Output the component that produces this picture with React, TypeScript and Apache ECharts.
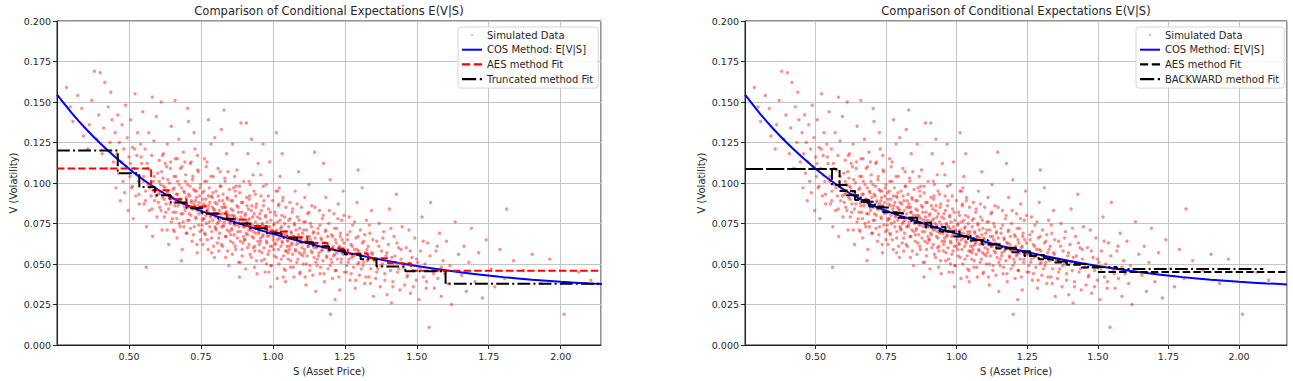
import React, { useEffect, useRef } from "react";
import * as echarts from "echarts";

// ---------- data ----------
const chartTitle = "Comparison of Conditional Expectations E(V|S)";
const xName = "S (Asset Price)";
const yName = "V (Volatility)";

// Simulated (S, V) samples: outer cloud
const cloudPoints: number[][] = [
  [0.283,0.159],[0.322,0.154],[0.305,0.138],[0.336,0.146],[0.342,0.129],[0.296,0.147],
  [0.380,0.169],[0.400,0.168],[0.416,0.162],[0.362,0.136],[0.371,0.151],[0.388,0.127],[0.395,0.142],[0.407,0.118],[0.412,0.134],[0.423,0.109],[0.428,0.147],[0.434,0.125],[0.441,0.139],[0.446,0.113],[0.357,0.121],[0.437,0.156],
  [0.452,0.131],[0.455,0.097],[0.458,0.118],[0.461,0.142],[0.464,0.106],[0.467,0.125],[0.470,0.089],[0.473,0.113],[0.476,0.136],[0.479,0.101],[0.482,0.121],[0.485,0.094],[0.488,0.148],[0.491,0.110],[0.494,0.128],[0.497,0.083],[0.500,0.116],[0.503,0.104],[0.506,0.139],[0.509,0.097],[0.512,0.122],[0.515,0.078],[0.518,0.109],[0.521,0.155],[0.524,0.092],[0.527,0.117],[0.530,0.131],[0.533,0.101],[0.536,0.087],[0.540,0.124],[0.544,0.112],[0.548,0.144],
  [0.551,0.104],[0.553,0.087],[0.556,0.121],[0.558,0.095],[0.561,0.073],[0.563,0.112],[0.566,0.099],[0.569,0.131],[0.571,0.083],[0.574,0.108],[0.577,0.092],[0.579,0.117],[0.582,0.067],[0.584,0.101],[0.587,0.126],[0.589,0.089],[0.592,0.096],[0.595,0.141],[0.597,0.079],[0.600,0.106],[0.602,0.093],[0.605,0.114],[0.607,0.085],[0.610,0.099],[0.612,0.150],[0.615,0.071],[0.618,0.103],[0.620,0.118],[0.623,0.090],[0.625,0.097],[0.628,0.082],[0.631,0.110],[0.633,0.124],[0.636,0.094],[0.638,0.062],[0.641,0.100],[0.643,0.087],[0.645,0.113],[0.647,0.135],[0.649,0.091],[0.560,0.048],[0.581,0.153],
  [0.651,0.078],[0.653,0.096],[0.655,0.071],[0.657,0.104],[0.659,0.088],[0.661,0.115],[0.663,0.082],[0.665,0.093],[0.667,0.066],[0.669,0.101],[0.671,0.086],[0.673,0.127],[0.675,0.075],[0.677,0.090],[0.679,0.109],[0.681,0.081],[0.683,0.097],[0.685,0.059],[0.687,0.087],[0.689,0.119],[0.691,0.073],[0.693,0.094],[0.695,0.083],[0.697,0.105],[0.699,0.091],[0.701,0.069],[0.703,0.099],[0.705,0.085],[0.707,0.138],[0.709,0.077],[0.711,0.092],[0.713,0.112],[0.715,0.080],[0.717,0.088],[0.719,0.064],[0.721,0.102],[0.723,0.084],[0.725,0.096],[0.727,0.073],[0.729,0.121],[0.731,0.089],[0.733,0.078],[0.735,0.095],[0.737,0.057],[0.739,0.086],[0.741,0.107],[0.743,0.081],[0.745,0.092],[0.747,0.070],[0.749,0.099],[0.704,0.146],[0.682,0.052],[0.726,0.131],[0.694,0.113],[0.738,0.117],[0.660,0.151],
  [0.751,0.083],[0.753,0.071],[0.755,0.094],[0.757,0.062],[0.759,0.087],[0.761,0.078],[0.763,0.101],[0.765,0.068],[0.767,0.090],[0.769,0.075],[0.771,0.113],[0.773,0.082],[0.775,0.059],[0.777,0.086],[0.779,0.097],[0.781,0.073],[0.783,0.080],[0.785,0.124],[0.787,0.066],[0.789,0.091],[0.791,0.077],[0.793,0.104],[0.795,0.084],[0.797,0.054],[0.799,0.088],[0.801,0.072],[0.803,0.095],[0.805,0.081],[0.807,0.063],[0.809,0.109],[0.811,0.076],[0.813,0.089],[0.815,0.069],[0.817,0.098],[0.819,0.079],[0.821,0.133],[0.823,0.085],[0.825,0.061],[0.827,0.093],[0.829,0.074],[0.831,0.087],[0.833,0.103],[0.835,0.067],[0.837,0.082],[0.839,0.118],[0.841,0.071],[0.843,0.090],[0.845,0.078],[0.847,0.049],[0.849,0.096],[0.830,0.145],[0.776,0.139],[0.812,0.058],[0.762,0.115],[0.798,0.128],[0.844,0.107],[0.786,0.092],[0.822,0.073],[0.756,0.077],[0.836,0.085],
  [0.851,0.075],[0.853,0.064],[0.855,0.089],[0.857,0.071],[0.859,0.056],[0.861,0.083],[0.863,0.097],[0.865,0.068],[0.867,0.079],[0.869,0.061],[0.871,0.092],[0.873,0.074],[0.875,0.108],[0.877,0.066],[0.879,0.085],[0.881,0.051],[0.883,0.077],[0.885,0.094],[0.887,0.070],[0.889,0.137],[0.891,0.082],[0.893,0.059],[0.895,0.088],[0.897,0.073],[0.899,0.101],[0.901,0.065],[0.903,0.080],[0.905,0.047],[0.907,0.076],[0.909,0.091],[0.911,0.068],[0.913,0.118],[0.915,0.084],[0.917,0.062],[0.919,0.078],[0.921,0.099],[0.923,0.071],[0.925,0.054],[0.927,0.086],[0.929,0.074],[0.931,0.105],[0.933,0.066],[0.935,0.081],[0.937,0.058],[0.939,0.093],[0.941,0.072],[0.943,0.087],[0.945,0.044],[0.947,0.079],[0.949,0.112],[0.860,0.124],[0.884,0.042],[0.908,0.137],[0.926,0.127],[0.872,0.098],[0.896,0.063],[0.918,0.090],[0.940,0.069],[0.856,0.080],[0.932,0.060],
  [0.951,0.069],[0.953,0.058],[0.955,0.081],[0.957,0.064],[0.959,0.092],[0.961,0.052],[0.963,0.075],[0.965,0.067],[0.967,0.086],[0.969,0.060],[0.971,0.073],[0.973,0.045],[0.975,0.079],[0.977,0.099],[0.979,0.063],[0.981,0.071],[0.983,0.056],[0.985,0.084],[0.987,0.068],[0.989,0.113],[0.991,0.061],[0.993,0.077],[0.995,0.049],[0.997,0.070],[0.999,0.089],[1.001,0.065],[1.003,0.074],[1.005,0.055],[1.007,0.082],[1.009,0.062],[1.011,0.095],[1.013,0.069],[1.015,0.041],[1.017,0.076],[1.019,0.059],[1.021,0.087],[1.023,0.066],[1.025,0.104],[1.027,0.072],[1.029,0.053],[1.031,0.080],[1.033,0.063],[1.035,0.091],[1.037,0.068],[1.039,0.047],[1.041,0.075],[1.043,0.058],[1.045,0.085],[1.047,0.070],[1.049,0.061],[0.966,0.124],[1.012,0.131],[0.992,0.036],[1.032,0.118],[0.958,0.105],[1.044,0.039],[0.978,0.050],[1.022,0.097],
  [1.051,0.064],[1.053,0.053],[1.055,0.077],[1.057,0.059],[1.059,0.088],[1.061,0.048],[1.063,0.070],[1.065,0.062],[1.067,0.082],[1.069,0.056],[1.071,0.067],[1.073,0.042],[1.075,0.074],[1.077,0.095],[1.079,0.058],[1.081,0.066],[1.083,0.051],[1.085,0.079],[1.087,0.063],[1.089,0.107],[1.091,0.057],[1.093,0.072],[1.095,0.045],[1.097,0.065],[1.099,0.085],[1.101,0.060],[1.103,0.069],[1.105,0.050],[1.107,0.076],[1.109,0.057],[1.111,0.091],[1.113,0.064],[1.115,0.037],[1.117,0.071],[1.119,0.055],[1.121,0.081],[1.123,0.061],[1.125,0.099],[1.127,0.067],[1.129,0.049],[1.131,0.075],[1.133,0.058],[1.135,0.086],[1.137,0.063],[1.139,0.043],[1.141,0.070],[1.143,0.054],[1.145,0.119],[1.147,0.066],[1.149,0.033],
  [1.152,0.060],[1.154,0.049],[1.157,0.072],[1.159,0.055],[1.162,0.083],[1.164,0.044],[1.167,0.066],[1.169,0.058],[1.172,0.078],[1.174,0.052],[1.177,0.063],[1.179,0.039],[1.182,0.070],[1.184,0.091],[1.187,0.054],[1.189,0.062],[1.192,0.047],[1.194,0.075],[1.197,0.059],[1.199,0.102],[1.202,0.053],[1.204,0.068],[1.207,0.041],[1.209,0.061],[1.212,0.081],[1.214,0.056],[1.217,0.065],[1.219,0.046],[1.222,0.072],[1.224,0.053],[1.227,0.087],[1.229,0.060],[1.232,0.034],[1.234,0.067],[1.237,0.051],[1.239,0.077],[1.242,0.057],[1.244,0.095],[1.247,0.063],[1.249,0.045],[1.176,0.112],[1.216,0.028],[1.200,0.019],
  [1.253,0.056],[1.256,0.045],[1.259,0.068],[1.262,0.051],[1.265,0.079],[1.268,0.040],[1.271,0.062],[1.274,0.054],[1.277,0.074],[1.280,0.048],[1.283,0.059],[1.286,0.035],[1.289,0.066],[1.292,0.088],[1.295,0.050],[1.298,0.058],[1.301,0.043],[1.304,0.071],[1.307,0.055],[1.310,0.097],[1.313,0.049],[1.316,0.064],[1.319,0.038],[1.322,0.057],[1.325,0.077],[1.328,0.052],[1.331,0.061],[1.334,0.042],[1.337,0.069],[1.340,0.047],[1.343,0.083],[1.346,0.056],[1.349,0.030],[1.296,0.108],
  [1.353,0.052],[1.357,0.041],[1.361,0.064],[1.365,0.047],[1.369,0.075],[1.373,0.036],[1.377,0.058],[1.381,0.050],[1.385,0.070],[1.389,0.044],[1.393,0.055],[1.397,0.031],[1.401,0.062],[1.405,0.084],[1.409,0.046],[1.413,0.054],[1.417,0.039],[1.421,0.067],[1.425,0.051],[1.429,0.093],[1.433,0.045],[1.437,0.060],[1.441,0.034],[1.445,0.053],[1.449,0.073],[1.412,0.026],
  [1.453,0.048],[1.458,0.037],[1.463,0.060],[1.468,0.043],[1.473,0.071],[1.478,0.032],[1.483,0.054],[1.488,0.046],[1.493,0.066],[1.498,0.040],[1.503,0.051],[1.508,0.028],[1.513,0.058],[1.518,0.079],[1.523,0.042],[1.528,0.050],[1.533,0.035],[1.538,0.063],[1.543,0.011],[1.548,0.088],
  [1.555,0.046],[1.561,0.035],[1.567,0.058],[1.573,0.041],[1.579,0.069],[1.585,0.030],[1.591,0.052],[1.597,0.044],[1.603,0.064],[1.609,0.038],[1.615,0.049],[1.621,0.025],[1.633,0.076],[1.645,0.056],
  [1.656,0.043],[1.664,0.061],[1.672,0.033],[1.681,0.051],[1.690,0.072],[1.702,0.039],[1.715,0.057],[1.728,0.029],[1.741,0.065],
  [1.758,0.047],[1.771,0.036],[1.789,0.059],[1.805,0.041],[1.812,0.084],[1.836,0.052],
  [1.872,0.046],[1.901,0.056],[1.931,0.038],[1.962,0.053],[2.012,0.019],[2.063,0.045],[2.105,0.040]
];

// Simulated (S, V) samples: dense core
const cloudCore: number[][] = [
  [0.505,0.112],[0.512,0.098],[0.520,0.121],[0.527,0.105],[0.535,0.093],[0.542,0.116],[0.550,0.101],[0.557,0.089],[0.565,0.109],[0.572,0.097],[0.580,0.084],[0.588,0.104],[0.595,0.092],
  [0.602,0.088],[0.605,0.101],[0.608,0.094],[0.611,0.083],[0.614,0.107],[0.617,0.091],[0.620,0.098],[0.623,0.079],[0.626,0.112],[0.629,0.087],[0.632,0.095],[0.635,0.102],[0.638,0.084],[0.641,0.092],[0.644,0.109],[0.647,0.076],[0.616,0.117],[0.633,0.071],
  [0.652,0.091],[0.654,0.082],[0.657,0.097],[0.660,0.086],[0.663,0.104],[0.666,0.078],[0.669,0.093],[0.672,0.088],[0.675,0.099],[0.678,0.073],[0.681,0.090],[0.684,0.110],[0.687,0.081],[0.690,0.095],[0.693,0.085],[0.696,0.101],[0.699,0.069],[0.668,0.115],[0.688,0.076],[0.658,0.070],
  [0.702,0.086],[0.704,0.077],[0.707,0.093],[0.709,0.081],[0.712,0.098],[0.714,0.072],[0.717,0.089],[0.719,0.084],[0.722,0.104],[0.724,0.068],[0.727,0.087],[0.729,0.095],[0.732,0.079],[0.734,0.091],[0.737,0.083],[0.739,0.108],[0.742,0.074],[0.744,0.088],[0.747,0.097],[0.749,0.065],[0.716,0.113],[0.736,0.062],
  [0.752,0.082],[0.754,0.074],[0.756,0.090],[0.758,0.078],[0.761,0.095],[0.763,0.069],[0.765,0.086],[0.767,0.080],[0.770,0.101],[0.772,0.065],[0.774,0.084],[0.776,0.092],[0.779,0.076],[0.781,0.088],[0.783,0.079],[0.785,0.104],[0.788,0.070],[0.790,0.085],[0.792,0.094],[0.794,0.061],[0.797,0.083],[0.799,0.073],[0.768,0.110],[0.787,0.057],
  [0.801,0.079],[0.803,0.071],[0.805,0.087],[0.807,0.075],[0.810,0.092],[0.812,0.066],[0.814,0.083],[0.816,0.077],[0.819,0.098],[0.821,0.062],[0.823,0.081],[0.825,0.089],[0.828,0.073],[0.830,0.085],[0.832,0.076],[0.834,0.101],[0.837,0.067],[0.839,0.082],[0.841,0.091],[0.843,0.058],[0.846,0.080],[0.848,0.070],[0.817,0.107],[0.836,0.054],
  [0.851,0.076],[0.853,0.068],[0.855,0.084],[0.857,0.072],[0.860,0.089],[0.862,0.063],[0.864,0.080],[0.866,0.074],[0.869,0.095],[0.871,0.059],[0.873,0.078],[0.875,0.086],[0.878,0.070],[0.880,0.082],[0.882,0.073],[0.884,0.098],[0.887,0.064],[0.889,0.079],[0.891,0.088],[0.893,0.055],[0.896,0.077],[0.898,0.067],[0.867,0.104],[0.886,0.051],
  [0.901,0.073],[0.903,0.065],[0.905,0.081],[0.907,0.069],[0.910,0.086],[0.912,0.060],[0.914,0.077],[0.916,0.071],[0.919,0.092],[0.921,0.056],[0.923,0.075],[0.925,0.083],[0.928,0.067],[0.930,0.079],[0.932,0.070],[0.934,0.095],[0.937,0.061],[0.939,0.076],[0.941,0.085],[0.943,0.052],[0.946,0.074],[0.948,0.064],[0.917,0.101],[0.936,0.048],
  [0.951,0.070],[0.953,0.062],[0.955,0.078],[0.957,0.066],[0.960,0.083],[0.962,0.057],[0.964,0.074],[0.966,0.068],[0.969,0.089],[0.971,0.053],[0.973,0.072],[0.975,0.080],[0.978,0.064],[0.980,0.076],[0.982,0.067],[0.984,0.092],[0.987,0.058],[0.989,0.073],[0.991,0.082],[0.993,0.049],[0.996,0.071],[0.998,0.061],[0.967,0.098],[0.986,0.045],
  [1.001,0.067],[1.003,0.059],[1.005,0.075],[1.007,0.063],[1.010,0.080],[1.012,0.054],[1.014,0.071],[1.016,0.065],[1.019,0.086],[1.021,0.050],[1.023,0.069],[1.025,0.077],[1.028,0.061],[1.030,0.073],[1.032,0.064],[1.034,0.089],[1.037,0.055],[1.039,0.070],[1.041,0.079],[1.043,0.046],[1.046,0.068],[1.048,0.058],[1.017,0.095],[1.036,0.042],
  [1.051,0.065],[1.053,0.057],[1.055,0.073],[1.057,0.061],[1.060,0.078],[1.062,0.052],[1.064,0.069],[1.066,0.063],[1.069,0.084],[1.071,0.048],[1.073,0.067],[1.075,0.075],[1.078,0.059],[1.080,0.071],[1.082,0.062],[1.084,0.087],[1.087,0.053],[1.089,0.068],[1.091,0.077],[1.093,0.044],[1.096,0.066],[1.098,0.056],
  [1.101,0.063],[1.104,0.055],[1.107,0.071],[1.110,0.059],[1.113,0.076],[1.116,0.050],[1.119,0.067],[1.122,0.061],[1.125,0.082],[1.128,0.046],[1.131,0.065],[1.134,0.073],[1.137,0.057],[1.140,0.069],[1.143,0.060],[1.146,0.085],[1.149,0.051],[1.112,0.042],
  [1.151,0.061],[1.154,0.053],[1.157,0.069],[1.160,0.057],[1.163,0.074],[1.166,0.048],[1.169,0.065],[1.172,0.059],[1.175,0.080],[1.178,0.044],[1.181,0.063],[1.184,0.071],[1.187,0.055],[1.190,0.067],[1.193,0.058],[1.196,0.083],[1.199,0.049],
  [1.202,0.059],[1.205,0.051],[1.208,0.067],[1.211,0.055],[1.214,0.072],[1.217,0.046],[1.220,0.063],[1.223,0.057],[1.226,0.078],[1.229,0.042],[1.232,0.061],[1.235,0.069],[1.238,0.053],[1.241,0.065],[1.244,0.056],[1.247,0.080],
  [1.252,0.057],[1.256,0.049],[1.260,0.065],[1.264,0.053],[1.268,0.070],[1.272,0.044],[1.276,0.061],[1.280,0.055],[1.284,0.076],[1.288,0.040],[1.292,0.059],[1.296,0.067],[1.299,0.051],
  [1.303,0.055],[1.307,0.047],[1.311,0.063],[1.315,0.051],[1.319,0.068],[1.323,0.042],[1.327,0.059],[1.331,0.053],[1.335,0.074],[1.339,0.038],[1.343,0.057],[1.347,0.065],
  [1.354,0.053],[1.361,0.045],[1.368,0.061],[1.375,0.049],[1.382,0.066],[1.389,0.040],[1.396,0.057],[1.403,0.051],[1.410,0.072],[1.417,0.036],[1.424,0.055],[1.431,0.063],[1.438,0.047],[1.445,0.059],
  [1.455,0.050],[1.466,0.042],[1.477,0.058],[1.488,0.036],[1.499,0.053],[1.511,0.047],[1.522,0.064],[1.534,0.039],[1.546,0.055],[1.558,0.044],[1.571,0.061],[1.585,0.048]
];

// COS method E[V|S] curve
const cosS = [0.25,0.30,0.35,0.40,0.45,0.50,0.55,0.60,0.65,0.70,0.75,0.80,0.90,1.00,1.10,1.20,1.30,1.40,1.50,1.60,1.70,1.80,1.90,2.00,2.10,2.17];
const cosV = [0.1545,0.1435,0.1335,0.1245,0.1163,0.1088,0.1020,0.0960,0.0908,0.0864,0.0828,0.0797,0.0740,0.0686,0.0637,0.0593,0.0554,0.0519,0.0488,0.0461,0.0438,0.0419,0.0403,0.0390,0.0380,0.0374];

// Left panel step fits (bin edges and bin values)
const leftAesEdges = [0.25,0.577,0.64,0.70,0.77,0.84,0.91,0.98,1.05,1.12,1.19,1.26,1.33,1.40,1.48,2.14];
const leftAesValues = [0.109,0.0955,0.090,0.0855,0.081,0.0775,0.0735,0.070,0.0665,0.063,0.0595,0.0565,0.0535,0.0505,0.0459];
const leftTruncEdges = [0.25,0.461,0.536,0.59,0.645,0.70,0.755,0.81,0.865,0.92,0.975,1.03,1.085,1.14,1.195,1.25,1.305,1.36,1.46,1.60,2.14];
const leftTruncValues = [0.120,0.106,0.0975,0.0925,0.088,0.0845,0.0812,0.078,0.075,0.072,0.069,0.0662,0.0635,0.061,0.0585,0.056,0.053,0.0485,0.0455,0.0378];

// Right panel step fits
const rightAesEdges = [0.25,0.585,0.64,0.69,0.74,0.79,0.84,0.89,0.94,0.99,1.04,1.09,1.14,1.19,1.24,1.29,1.34,1.39,1.44,1.50,2.17];
const rightAesValues = [0.1086,0.095,0.0895,0.0855,0.0820,0.0785,0.0755,0.0725,0.070,0.067,0.0645,0.062,0.0595,0.0572,0.055,0.053,0.051,0.0495,0.0478,0.0451];
const rightBackEdges = [0.25,0.558,0.61,0.66,0.71,0.76,0.81,0.86,0.91,0.96,1.01,1.06,1.11,1.16,1.21,1.26,1.31,1.36,1.41,1.46,1.567,2.086];
const rightBackValues = [0.1086,0.0988,0.0925,0.0885,0.0848,0.0815,0.0785,0.0755,0.0728,0.070,0.0672,0.0648,0.0622,0.060,0.0578,0.0555,0.0535,0.0515,0.050,0.0482,0.0469];

const xMinLeft = 0.25, xMaxLeft = 2.14;
const xMinRight = 0.25, xMaxRight = 2.17;
const yMin = 0, yMax = 0.2;

const leftNames = ["Simulated Data", "COS Method: E[V|S]", "AES method Fit", "Truncated method Fit"];
const rightNames = ["Simulated Data", "COS Method: E[V|S]", "AES method Fit", "BACKWARD method Fit"];

// ---------- helpers ----------
const FONT = "DejaVu Sans";
const TXT = "#262626";
const stepData = (edges: number[], values: number[]) =>
  edges.map((e, i) => [e, values[Math.min(i, values.length - 1)]]);
const cosData = cosS.map((s, i) => [s, cosV[i]]);
const allPoints = cloudPoints.concat(cloudCore);
const DASHED = [7.4, 3.2];
const DASHDOT = [12.8, 3.2, 2, 3.2];

// legend icons (20 x 10 box)
const ICON_DOT = "path://M0,0L0.01,0L0.01,0.01Z M9,4L11,4L11,6L9,6Z M20,10L20.01,10L20.01,10.01Z";
const ICON_SOLID = "path://M0,4L20,4L20,6L0,6Z";
const ICON_DASH = "path://M0,4L7.4,4L7.4,6L0,6Z M10.6,4L18,4L18,6L10.6,6Z";
const ICON_DASHDOT = "path://M0,4L12.8,4L12.8,6L0,6Z M16,4L18,4L18,6L16,6Z";
const ICONS = [ICON_DOT, ICON_SOLID, ICON_DASH, ICON_DASHDOT];

function axes(gridIndex: number, xmin: number, xmax: number) {
  const x = {
    type: "value", gridIndex, min: xmin, max: xmax, interval: 0.25,
    name: xName, nameLocation: "middle", nameGap: 21,
    nameTextStyle: { fontFamily: FONT, fontSize: 10, color: TXT },
    axisLine: { show: true, onZero: false, lineStyle: { color: "#222", width: 1 } },
    axisTick: { show: true, length: 4, lineStyle: { color: "#222" } },
    axisLabel: { fontFamily: FONT, fontSize: 9.5, color: TXT, margin: 6, showMinLabel: false, showMaxLabel: false,
      formatter: (v: number) => v.toFixed(2) },
    splitLine: { show: true, lineStyle: { color: "#c4c4c4", width: 1 } },
  };
  const y = {
    type: "value", gridIndex, min: yMin, max: yMax, interval: 0.025,
    name: yName, nameLocation: "middle", nameGap: 39, nameRotate: 90,
    nameTextStyle: { fontFamily: FONT, fontSize: 10, color: TXT },
    axisLine: { show: true, onZero: false, lineStyle: { color: "#222", width: 1 } },
    axisTick: { show: true, length: 4, lineStyle: { color: "#222" } },
    axisLabel: { fontFamily: FONT, fontSize: 9.5, color: TXT, margin: 6, formatter: (v: number) => v.toFixed(3) },
    splitLine: { show: true, lineStyle: { color: "#c4c4c4", width: 1 } },
  };
  return { x, y };
}

function legendFor(names: string[], prefix: string, left: number, colors: string[]) {
  return {
    orient: "vertical", left, top: 27,
    itemWidth: 20, itemHeight: 10, itemGap: 4.7,
    padding: [3, 5, 4, 4],
    borderColor: "#d6d6d6", borderWidth: 1, borderRadius: 3,
    backgroundColor: "rgba(255,255,255,0.85)",
    selectedMode: false,
    textStyle: { fontFamily: FONT, fontSize: 10, color: TXT },
    formatter: (n: string) => n.replace(/^R\|/, ""),
    data: names.map((n, i) => ({
      name: prefix + n, icon: ICONS[i],
      itemStyle: { color: colors[i], borderWidth: 0 },
    })),
  };
}

export default function App() {
  const ref = useRef<HTMLDivElement>(null);
  useEffect(() => {
    if (!ref.current) return;
    const chart = echarts.init(ref.current, null, { renderer: "svg" });
    const a0 = axes(0, xMinLeft, xMaxLeft);
    const a1 = axes(1, xMinRight, xMaxRight);
    const scatter = (idx: number, name: string) => ({
      type: "scatter", name, xAxisIndex: idx, yAxisIndex: idx,
      data: allPoints, symbolSize: 3.4, silent: true,
      itemStyle: { color: "rgba(255,0,0,0.55)" },
    });
    const line = (idx: number, name: string, data: number[][], color: string, type: any, step?: string, smooth?: boolean) => ({
      type: "line", name, xAxisIndex: idx, yAxisIndex: idx, data,
      symbol: "none", showSymbol: false, step: step || false, smooth: smooth ? 0.3 : false,
      lineStyle: { color, width: 2, type }, itemStyle: { color }, silent: true,
    });
    chart.setOption({
      animation: false,
      textStyle: { fontFamily: FONT },
      title: [
        { text: chartTitle, left: 329, top: 0, padding: [5, 0], textAlign: "center",
          textStyle: { fontFamily: FONT, fontSize: 11.5, fontWeight: "normal", color: TXT } },
        { text: chartTitle, left: 1016, top: 0, padding: [5, 0], textAlign: "center",
          textStyle: { fontFamily: FONT, fontSize: 11.5, fontWeight: "normal", color: TXT } },
      ],
      grid: [
        { left: 57, top: 21, width: 544, height: 324, show: true, borderColor: "#222", borderWidth: 1, backgroundColor: "transparent" },
        { left: 745, top: 21, width: 542, height: 324, show: true, borderColor: "#222", borderWidth: 1, backgroundColor: "transparent" },
      ],
      xAxis: [a0.x, a1.x],
      yAxis: [a0.y, a1.y],
      legend: [
        legendFor(leftNames, "", 458, ["rgba(255,60,60,0.5)", "#0000ff", "#ff0000", "#000000"]),
        legendFor(rightNames, "R|", 1136, ["rgba(255,60,60,0.5)", "#0000ff", "#000000", "#000000"]),
      ],
      series: [
        scatter(0, leftNames[0]),
        line(0, leftNames[1], cosData, "#0000ff", "solid", undefined, true),
        line(0, leftNames[2], stepData(leftAesEdges, leftAesValues), "#ff0000", DASHED, "end"),
        line(0, leftNames[3], stepData(leftTruncEdges, leftTruncValues), "#000000", DASHDOT, "end"),
        scatter(1, "R|" + rightNames[0]),
        line(1, "R|" + rightNames[1], cosData, "#0000ff", "solid", undefined, true),
        line(1, "R|" + rightNames[2], stepData(rightAesEdges, rightAesValues), "#000000", DASHED, "end"),
        line(1, "R|" + rightNames[3], stepData(rightBackEdges, rightBackValues), "#000000", DASHDOT, "end"),
      ],
    });
    return () => chart.dispose();
  }, []);
  return <div ref={ref} style={{ position: "absolute", left: 0, top: 0, width: 1293, height: 381 }} />;
}
